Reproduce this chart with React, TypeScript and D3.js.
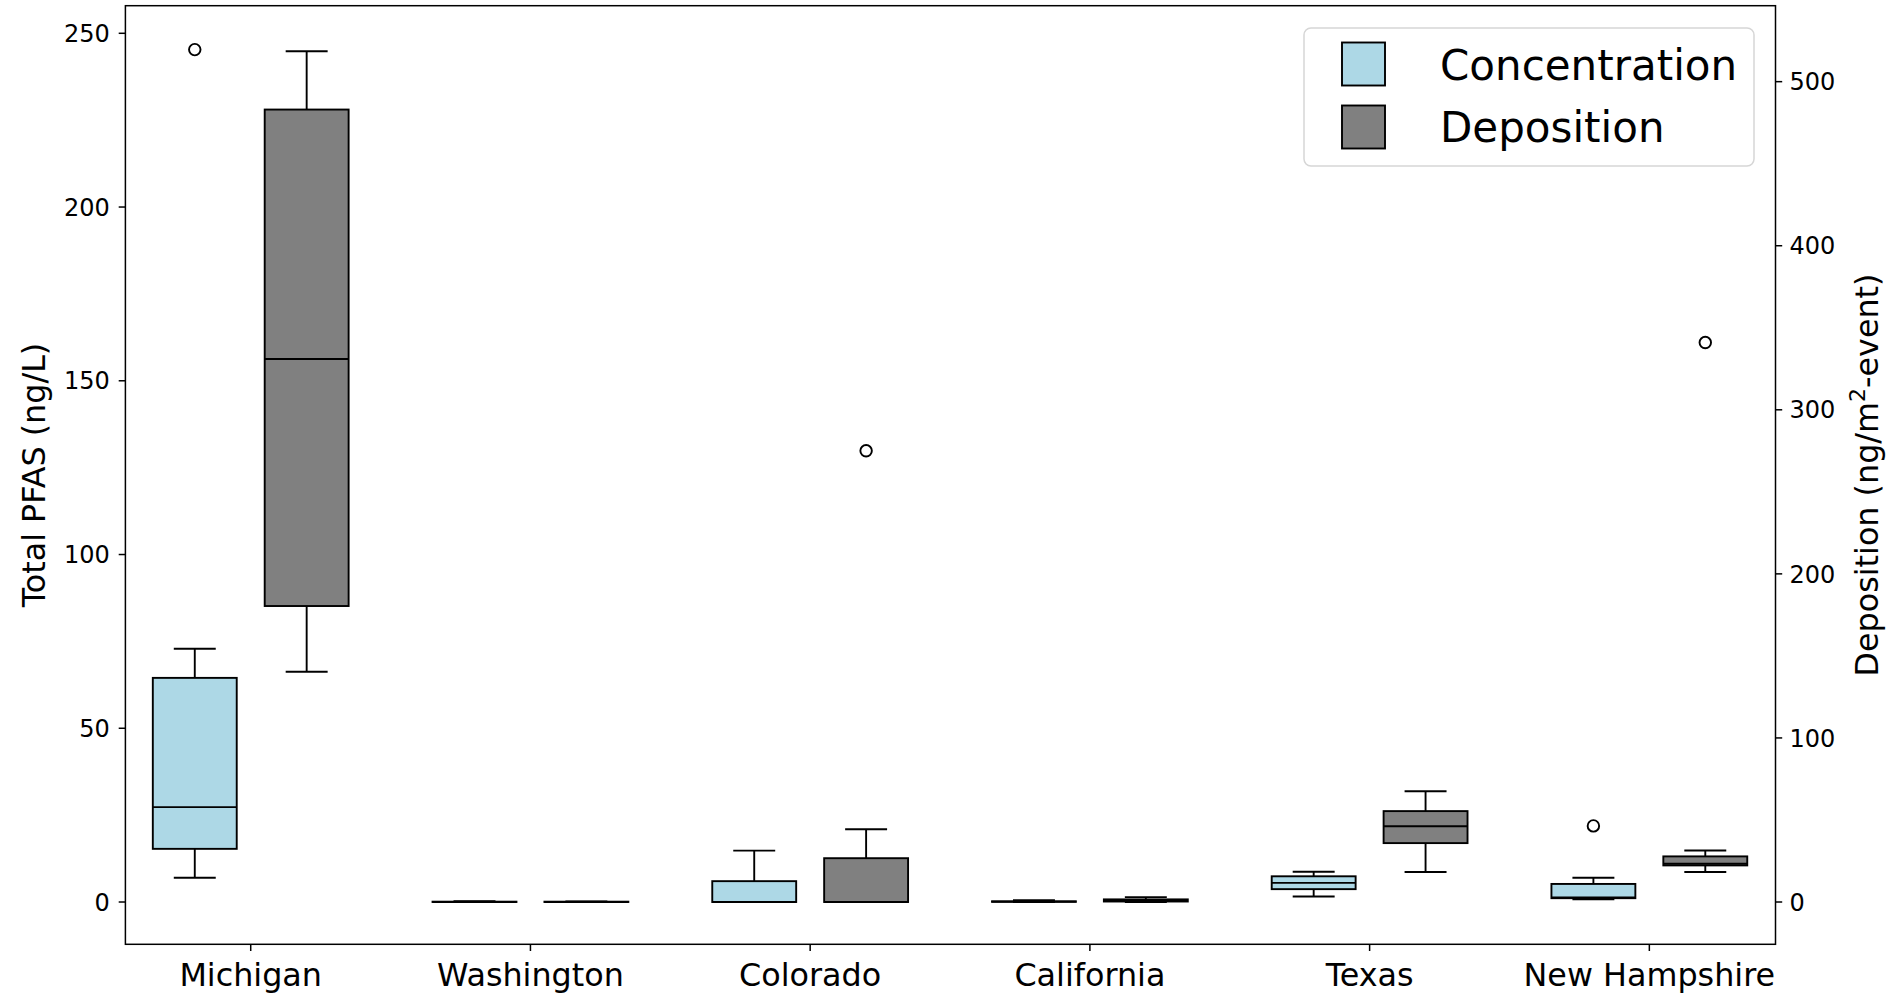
import React from 'react';
import * as d3 from 'd3';

const categories = ['Michigan', 'Washington', 'Colorado', 'California', 'Texas', 'New Hampshire'];

// Concentration (left axis, ng/L)
const concLow = [7.0, 0, 0, 0, 1.6, 0.8];
const concQ1 = [15.3, 0, 0, 0.05, 3.7, 1.1];
const concMedian = [27.3, 0, 0, 0.1, 5.5, 1.3];
const concQ3 = [64.5, 0.1, 6.0, 0.2, 7.4, 5.2];
const concHigh = [72.9, 0.2, 14.8, 0.5, 8.7, 7.0];
const concOutliers = [[245.3], [], [], [], [], [21.9]];

// Deposition (right axis, ng/m2-event)
const depLow = [140.3, 0, 0, 0, 18.3, 18.3];
const depQ1 = [180.4, 0, 0, 0.3, 35.9, 22.3];
const depMedian = [331, 0, 0, 0.8, 46.2, 23.3];
const depQ3 = [483, 0.2, 26.7, 1.6, 55.4, 27.8];
const depHigh = [518.5, 0.4, 44.3, 3.0, 67.5, 31.4];
const depOutliers = [[], [], [275], [], [], [341]];

const leftTicks = [0, 50, 100, 150, 200, 250];
const rightTicks = [0, 100, 200, 300, 400, 500];

const seriesNames = ['Concentration', 'Deposition'];
const seriesColors = ['#add8e6', '#808080'];

const W = 1890;
const H = 994;
const plotLeft = 125.4;
const plotRight = 1775.5;
const plotTop = 5.7;
const plotBottom = 944.3;
const FONT = '"DejaVu Sans", sans-serif';

export default function App() {
  const x = d3.scaleLinear().domain([-0.448, 5.451]).range([plotLeft, plotRight]);
  const yL = d3.scaleLinear().domain([-12.17, 257.94]).range([plotBottom, plotTop]);
  const yR = d3.scaleLinear().domain([-25.78, 546.3]).range([plotBottom, plotTop]);

  const boxW = x(0.3) - x(0);
  const capW = x(0.15) - x(0);
  const lw = 1.9;

  const series = [
    { low: concLow, q1: concQ1, med: concMedian, q3: concQ3, high: concHigh, out: concOutliers, y: yL, off: -0.2, color: seriesColors[0] },
    { low: depLow, q1: depQ1, med: depMedian, q3: depQ3, high: depHigh, out: depOutliers, y: yR, off: 0.2, color: seriesColors[1] },
  ];

  const fmt = d3.format('d');

  return (
    <div style={{ position: 'absolute', left: 0, top: 0 }}>
      <svg width={W} height={H} style={{ display: 'block', background: '#fff' }} fontFamily={FONT}>
        <rect x={0} y={0} width={W} height={H} fill="#fff" />
        {series.map((s, si) => (
          <g key={si}>
            {categories.map((c, i) => {
              const cx = x(i + s.off);
              const yq1 = s.y(s.q1[i]);
              const yq3 = s.y(s.q3[i]);
              return (
                <g key={c}>
                  <line x1={cx} x2={cx} y1={s.y(s.low[i])} y2={yq1} stroke="#000" strokeWidth={lw} />
                  <line x1={cx} x2={cx} y1={s.y(s.high[i])} y2={yq3} stroke="#000" strokeWidth={lw} />
                  <line x1={cx - capW / 2} x2={cx + capW / 2} y1={s.y(s.low[i])} y2={s.y(s.low[i])} stroke="#000" strokeWidth={lw} />
                  <line x1={cx - capW / 2} x2={cx + capW / 2} y1={s.y(s.high[i])} y2={s.y(s.high[i])} stroke="#000" strokeWidth={lw} />
                  <rect x={cx - boxW / 2} y={yq3} width={boxW} height={Math.max(0, yq1 - yq3)} fill={s.color} stroke="#000" strokeWidth={lw} />
                  <line x1={cx - boxW / 2} x2={cx + boxW / 2} y1={s.y(s.med[i])} y2={s.y(s.med[i])} stroke="#000" strokeWidth={lw} />
                  {s.out[i].map((v, k) => (
                    <circle key={k} cx={cx} cy={s.y(v)} r={5.75} fill="none" stroke="#000" strokeWidth={lw} />
                  ))}
                </g>
              );
            })}
          </g>
        ))}

        {/* frame */}
        <rect x={plotLeft} y={plotTop} width={plotRight - plotLeft} height={plotBottom - plotTop} fill="none" stroke="#000" strokeWidth={1.5} />

        {/* left axis ticks */}
        {leftTicks.map((t) => (
          <g key={'l' + t}>
            <line x1={plotLeft - 6.7} x2={plotLeft} y1={yL(t)} y2={yL(t)} stroke="#000" strokeWidth={1.5} />
            <text x={plotLeft - 15.5} y={yL(t)} dy="0.36em" textAnchor="end" fontSize={24} fill="#000">{fmt(t)}</text>
          </g>
        ))}
        {/* right axis ticks */}
        {rightTicks.map((t) => (
          <g key={'r' + t}>
            <line x1={plotRight} x2={plotRight + 6.7} y1={yR(t)} y2={yR(t)} stroke="#000" strokeWidth={1.5} />
            <text x={plotRight + 14} y={yR(t)} dy="0.36em" textAnchor="start" fontSize={24} fill="#000">{fmt(t)}</text>
          </g>
        ))}
        {/* x ticks */}
        {categories.map((c, i) => (
          <g key={'x' + c}>
            <line x1={x(i)} x2={x(i)} y1={plotBottom} y2={plotBottom + 6.7} stroke="#000" strokeWidth={1.5} />
            <text x={x(i)} y={985.5} textAnchor="middle" fontSize={31.8} fill="#000">{c}</text>
          </g>
        ))}

        {/* axis labels */}
        <text transform={`translate(44.5, ${(plotTop + plotBottom) / 2}) rotate(-90)`} textAnchor="middle" fontSize={31.8} fill="#000">
          Total PFAS (ng/L)
        </text>
        <text transform={`translate(1877.5, ${(plotTop + plotBottom) / 2}) rotate(-90)`} textAnchor="middle" fontSize={31.8} fill="#000">
          Deposition (ng/m<tspan fontSize={22} dy={-12.5}>2</tspan><tspan dy={12.5}>-event)</tspan>
        </text>

        {/* legend */}
        <g>
          <rect x={1304} y={28} width={450} height={138} rx={7} fill="#fff" fillOpacity={0.8} stroke="#d6d6d6" strokeWidth={1.5} />
          {seriesNames.map((n, i) => (
            <g key={n}>
              <rect x={1342} y={42.5 + i * 63} width={43} height={43} fill={seriesColors[i]} stroke="#000" strokeWidth={lw} />
              <text x={1440} y={80 + i * 62} fontSize={42} fill="#000">{n}</text>
            </g>
          ))}
        </g>
      </svg>
    </div>
  );
}
